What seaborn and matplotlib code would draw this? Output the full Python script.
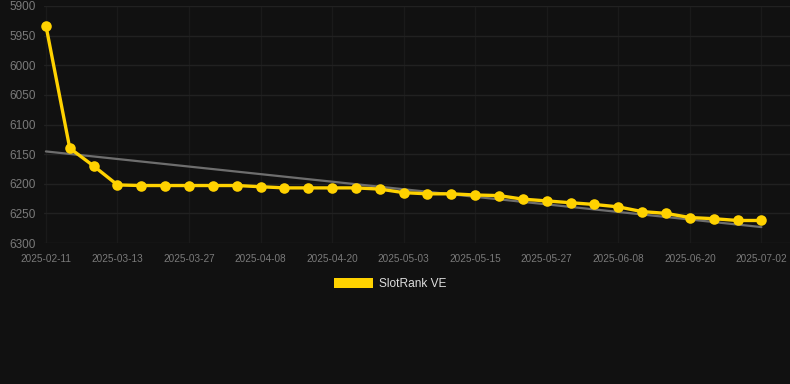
import matplotlib
matplotlib.use("Agg")
import matplotlib.pyplot as plt
from matplotlib.patches import Patch
import numpy as np
import pandas as pd
import seaborn as sns

# rank per snapshot (lower is better, axis is reversed)
dates = ['2025-02-11', '2025-02-21', '2025-03-03', '2025-03-13', '2025-03-18',
		 '2025-03-22', '2025-03-27', '2025-03-31', '2025-04-04', '2025-04-08',
		 '2025-04-12', '2025-04-16', '2025-04-20', '2025-04-24', '2025-04-29',
		 '2025-05-03', '2025-05-07', '2025-05-11', '2025-05-15', '2025-05-19',
		 '2025-05-23', '2025-05-27', '2025-05-31', '2025-06-04', '2025-06-08',
		 '2025-06-12', '2025-06-16', '2025-06-20', '2025-06-24', '2025-06-28',
		 '2025-07-02']
rank = [5933, 6140, 6170, 6202, 6203, 6203, 6203, 6203, 6203, 6205,
		6207, 6207, 6207, 6207, 6209, 6215, 6217, 6217, 6219, 6220,
		6226, 6229, 6232, 6235, 6239, 6247, 6250, 6257, 6259, 6262,
		6262]
series_name = 'SlotRank VE'
y_ticks = [5900, 5950, 6000, 6050, 6100, 6150, 6200, 6250, 6300]

BG = '#111111'
GOLD = '#FFD200'
TICK = '#7a7a7a'

df = pd.DataFrame({'idx': range(len(rank)), 'date': dates, 'rank': rank})

sns.set_style('dark')
plt.rcParams['font.family'] = ['Liberation Sans', 'DejaVu Sans']

fig = plt.figure(figsize=(7.9, 3.84), dpi=100, facecolor=BG)
ax = fig.add_axes([44 / 790, 1 - 243 / 384, 746 / 790, 237 / 384])
ax.set_facecolor(BG)

# trend line
sns.regplot(data=df, x='idx', y='rank', scatter=False, ci=None, ax=ax,
			line_kws={'color': '#6e6e6e', 'linewidth': 1.6})

sns.lineplot(data=df, x='idx', y='rank', ax=ax, color=GOLD, linewidth=2.4,
			 marker='o', markersize=7.6, markeredgewidth=0, clip_on=False)

ax.set_ylim(6300, 5900)
ax.set_yticks(y_ticks)
ax.set_xlim(-0.08, 31.2)
ax.set_xticks(df['idx'][::3])
ax.set_xticklabels(df['date'][::3])
ax.set_xlabel('')
ax.set_ylabel('')

ax.grid(True, axis='y', color='#212121', linewidth=1)
ax.grid(True, axis='x', color='#1a1a1a', linewidth=1)
ax.set_axisbelow(True)
ax.tick_params(axis='x', colors=TICK, labelsize=7.2, length=0, pad=8)
ax.tick_params(axis='y', colors=TICK, labelsize=8.5, length=0, pad=6)
for s in ax.spines.values():
	s.set_visible(False)

handle = Patch(facecolor=GOLD, edgecolor='none', label=series_name)
fig.legend(handles=[handle], loc='center', bbox_to_anchor=(390 / 790, 1 - 284 / 384),
		   frameon=False, fontsize=8.6, labelcolor='#dddddd',
		   handlelength=3.3, handleheight=1.0, handletextpad=0.5)

fig.savefig('out.png', dpi=100, facecolor=BG)
